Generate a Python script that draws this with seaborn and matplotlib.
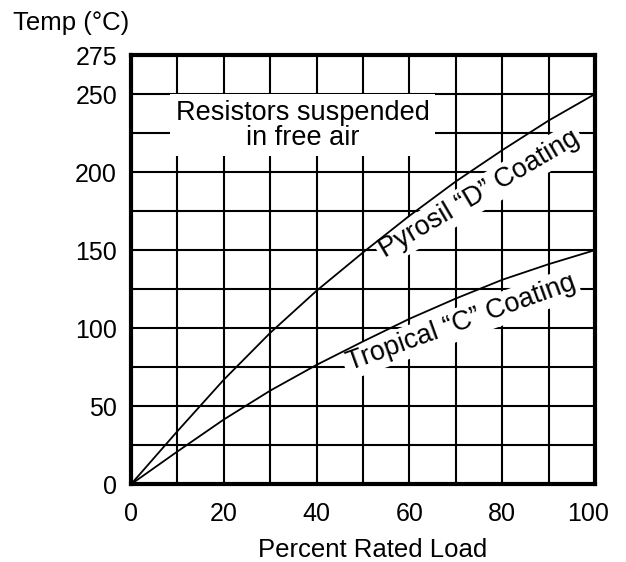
import matplotlib
matplotlib.use("Agg")
import matplotlib.pyplot as plt
import matplotlib.transforms as mtransforms
import numpy as np
import pandas as pd
import seaborn as sns

# ---- data ----
load = [0, 10, 20, 30, 40, 50, 60, 70, 80, 90, 100]
pyrosil = [0, 34, 67, 97, 124, 148.5, 172, 194, 214, 233, 250]
tropical = [0, 21, 41.5, 60, 76.5, 91.5, 106, 119, 131, 141, 150]
series_names = ["Pyrosil \u201cD\u201d Coating", "Tropical \u201cC\u201d Coating"]
x_ticks = [0, 20, 40, 60, 80, 100]
x_minor = [10, 30, 50, 70, 90]
y_ticks = [0, 50, 100, 150, 200, 250, 275]
y_minor = [25, 75, 125, 175, 225]
note = "Resistors suspended\nin free air"
x_label = "Percent Rated Load"
y_label = "Temp (\u00b0C)"

sns.set_theme(style="white")
plt.rcParams["font.family"] = ["Liberation Sans", "DejaVu Sans"]
plt.rcParams["text.color"] = "black"

df = pd.DataFrame({
    "load": load + load,
    "temp": pyrosil + tropical,
    "coating": [series_names[0]] * len(load) + [series_names[1]] * len(load),
})

W, H = 626, 562
fig = plt.figure(figsize=(W / 100, H / 100), dpi=100)
ax = fig.add_axes([131 / W, 1 - 484.3 / H, 464 / W, 429.3 / H])

sns.lineplot(data=df, x="load", y="temp", hue="coating",
             palette=["black", "black"], linewidth=1.3, legend=False,
             ax=ax, zorder=5)

ax.set_xlim(0, 100)
ax.set_ylim(0, 275)
ax.set_xticks(x_ticks)
ax.set_xticks(x_minor, minor=True)
ax.set_yticks(y_ticks)
ax.set_yticks(y_minor, minor=True)
ax.set_xticklabels([str(v) for v in x_ticks])
ax.set_yticklabels([str(v) for v in y_ticks])
ax.grid(which="both", color="black", linewidth=1.5)
ax.set_axisbelow(True)
ax.tick_params(which="both", length=0, labelsize=18, colors="black")
ax.tick_params(axis="y", pad=10)
ax.tick_params(axis="x", pad=13)
ax.set_xlabel("")
ax.set_ylabel("")
for s in ax.spines.values():
    s.set_visible(True)
    s.set_color("black")
    s.set_linewidth(3)
    s.set_zorder(6)

# last x tick label sits a little left of its gridline in the reference
last = ax.get_xticklabels()[-1]
last.set_transform(last.get_transform() +
                   mtransforms.ScaledTranslation(-7 / 100, 0, fig.dpi_scale_trans))

box = dict(facecolor="white", edgecolor="none", boxstyle="square,pad=0.2")
ax.text(37.0, 230, note, ha="center", va="center", fontsize=19.5,
        linespacing=0.95, bbox=box, zorder=3, color="black")
ax.text(75.9, 181.9, series_names[0], ha="center", va="baseline",
        rotation=30.5, rotation_mode="anchor", fontsize=19.5, color="black",
        bbox=dict(facecolor="white", edgecolor="none", boxstyle="square,pad=0.12"), zorder=3)
ax.text(71.6, 98.9, series_names[1], ha="center", va="baseline",
        rotation=19.8, rotation_mode="anchor", fontsize=19.5, color="black",
        bbox=dict(facecolor="white", edgecolor="none", boxstyle="square,pad=0.12"), zorder=3)

fig.text(373 / W, 1 - 557 / H, x_label, ha="center", va="baseline",
         fontsize=18.5, color="black")
fig.text(13 / W, 1 - 30 / H, y_label, ha="left", va="baseline",
         fontsize=18.5, color="black")

fig.savefig("out.png", dpi=100, facecolor="white")
